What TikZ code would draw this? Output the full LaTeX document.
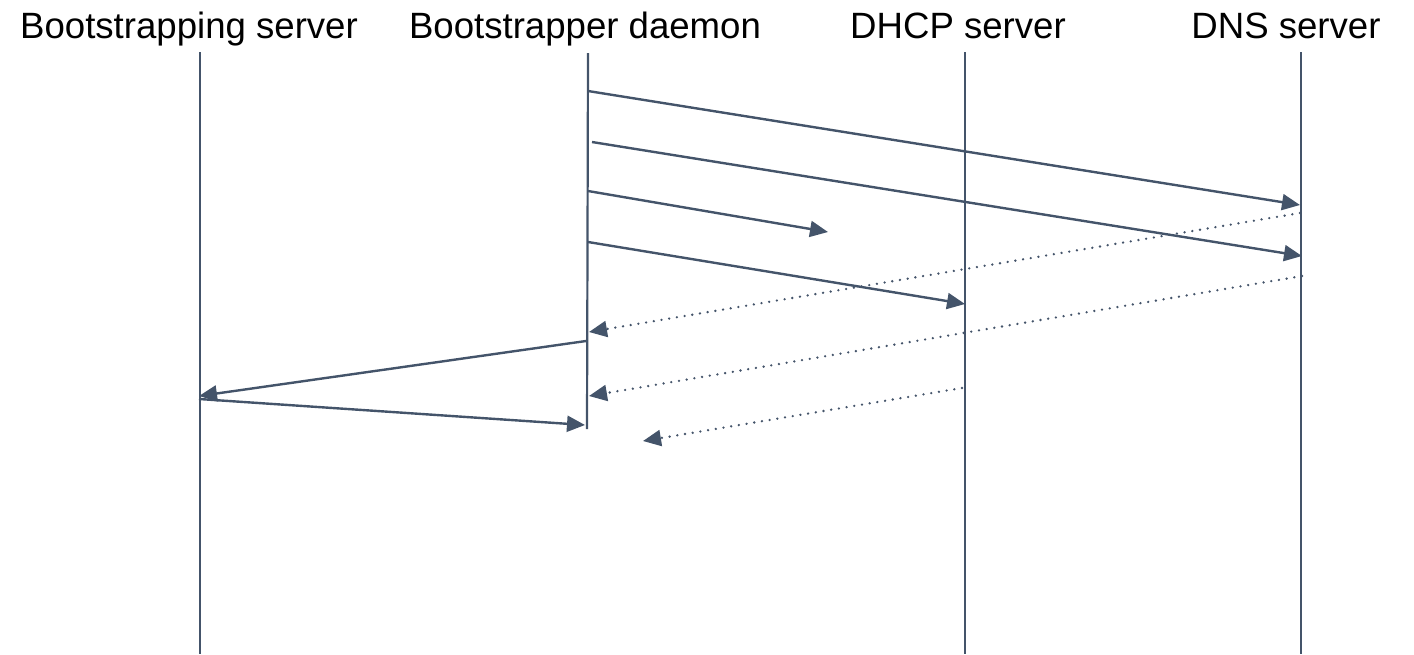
\documentclass[tikz,border=0pt]{standalone}
\usepackage{fontspec}
\setmainfont{Liberation Sans}
\usetikzlibrary{arrows.meta}
\definecolor{slate}{HTML}{44546A}

\begin{document}
\begin{tikzpicture}[x=0.5pt,y=-0.5pt,
  every node/.style={font=\fontsize{18.3}{22}\selectfont,inner sep=0pt,anchor=base},
  life/.style={draw=slate,line width=1.1pt},
  msg/.style={draw=slate,line width=1.2pt,-{Triangle[length=9pt,width=8pt]}},
  reply/.style={msg,line width=1.3pt,line cap=round,dash pattern=on 0pt off 3.9pt}]
\useasboundingbox (0,0) rectangle (1414,654);
% participants
\node (bs) at (189,38) {Bootstrapping server};
\node (bd) at (585,38) {Bootstrapper daemon};
\node (dhcp) at (958,38) {DHCP server};
\node (dns) at (1286,38) {DNS server};
% lifelines
\draw[life] (200,52) -- (200,654);
\draw[life] (588,53) -- (587,429);
\draw[life] (965,52) -- (965,654);
\draw[life] (1301,52) -- (1301,654);
% message ends
\coordinate (q1) at (588,91);  \coordinate (r1) at (1300,205);
\coordinate (q2) at (592,142); \coordinate (r2) at (1302,256);
\coordinate (q3) at (588,191); \coordinate (r3) at (828,232);
\coordinate (q4) at (588,242); \coordinate (r4) at (965,304);
\coordinate (s1) at (1300,213); \coordinate (t1) at (589,332);
\coordinate (s2) at (1302,276); \coordinate (t2) at (589,396);
\coordinate (s3) at (962,388);  \coordinate (t3) at (643,441);
\coordinate (u1) at (586,341); \coordinate (v1) at (199,396);
\coordinate (u2) at (199,399); \coordinate (v2) at (585,425);
% requests
\draw[msg] (q1) -- (r1);
\draw[msg] (q2) -- (r2);
\draw[msg] (q3) -- (r3);
\draw[msg] (q4) -- (r4);
% answers
\draw[reply] (s1) -- (t1);
\draw[reply] (s2) -- (t2);
\draw[reply] (s3) -- (t3);
% to the server and back
\draw[msg] (u1) -- (v1);
\draw[msg] (u2) -- (v2);
\end{tikzpicture}
\end{document}
